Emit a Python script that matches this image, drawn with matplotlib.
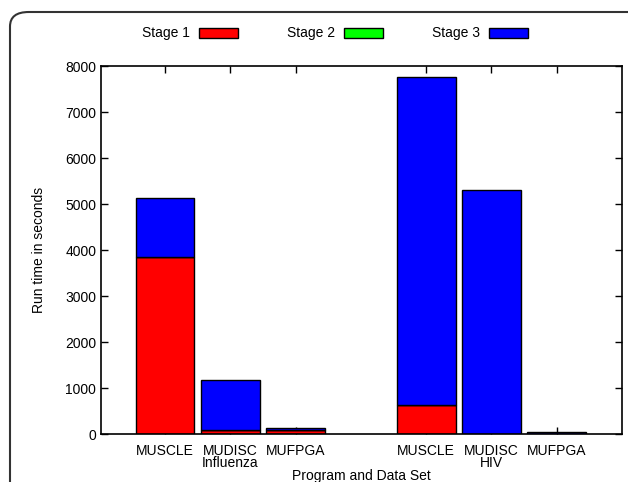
import matplotlib
matplotlib.use("Agg")
import matplotlib.pyplot as plt
from matplotlib.patches import FancyBboxPatch, Rectangle

plt.rcParams['font.family'] = ['Liberation Sans', 'DejaVu Sans']

programs = ["MUSCLE", "MUDISC\nInfluenza", "MUFPGA", "MUSCLE", "MUDISC\nHIV", "MUFPGA"]
positions = [0, 1, 2, 4, 5, 6]
stage1 = [3860, 100, 90, 640, 0, 10]
stage2 = [0, 0, 0, 0, 0, 0]
stage3 = [1270, 1070, 40, 7130, 5310, 30]
series_names = ["Stage 1", "Stage 2", "Stage 3"]
colors = ["#ff0000", "#00ff00", "#0000ff"]
yticks = [0, 1000, 2000, 3000, 4000, 5000, 6000, 7000, 8000]

W, H = 628, 482
fig = plt.figure(figsize=(W / 100, H / 100), dpi=100)
ax = fig.add_axes([101 / W, 1 - 434.3 / H, (622 - 101) / W, (434.3 - 66) / H])

bottom = [0] * len(positions)
for vals, col in zip([stage1, stage2, stage3], colors):
    ax.bar(positions, vals, width=0.9, bottom=bottom, color=col,
           edgecolor="black", linewidth=1.0, zorder=2)
    bottom = [b + v for b, v in zip(bottom, vals)]

ax.set_xlim(-0.98, 7.0)
ax.set_ylim(0, 8000)
ax.set_yticks(yticks)
ax.set_xticks(positions)
ax.set_xticklabels(programs, fontsize=10, linespacing=0.8)
ax.tick_params(axis='y', labelsize=10, direction='in', length=5, right=True, width=1)
ax.tick_params(axis='x', direction='in', length=5, top=True, width=1, pad=7)
for s in ax.spines.values():
    s.set_linewidth(1.2)
ax.set_ylabel("Run time in seconds", fontsize=10, labelpad=14)
ax.set_xlabel("Program and Data Set", fontsize=10)
ax.xaxis.set_label_coords(0.5, -(476 - 434.3) / (434.3 - 66))
ax.xaxis.label.set_va('center')

# legend (gnuplot style: label then sample box)
legend_y = 1 - 33 / H
text_right = [190, 335, 480]
for name, col, tr in zip(series_names, colors, text_right):
    fig.text(tr / W, legend_y, name, ha='right', va='center', fontsize=10)
    fig.patches.append(Rectangle(((tr + 9) / W, legend_y - 4.5 / H), 39 / W, 9 / H,
                                 transform=fig.transFigure, facecolor=col,
                                 edgecolor='black', linewidth=1.0))

# rounded outer frame
frame = FancyBboxPatch((10 / W, -0.1), (700 - 10) / W, (1 - 12 / H) + 0.1,
                       boxstyle="round,pad=0,rounding_size=0.03",
                       transform=fig.transFigure, facecolor='none',
                       edgecolor='#333333', linewidth=1.5)
fig.patches.append(frame)

fig.savefig("out.png", dpi=100)
